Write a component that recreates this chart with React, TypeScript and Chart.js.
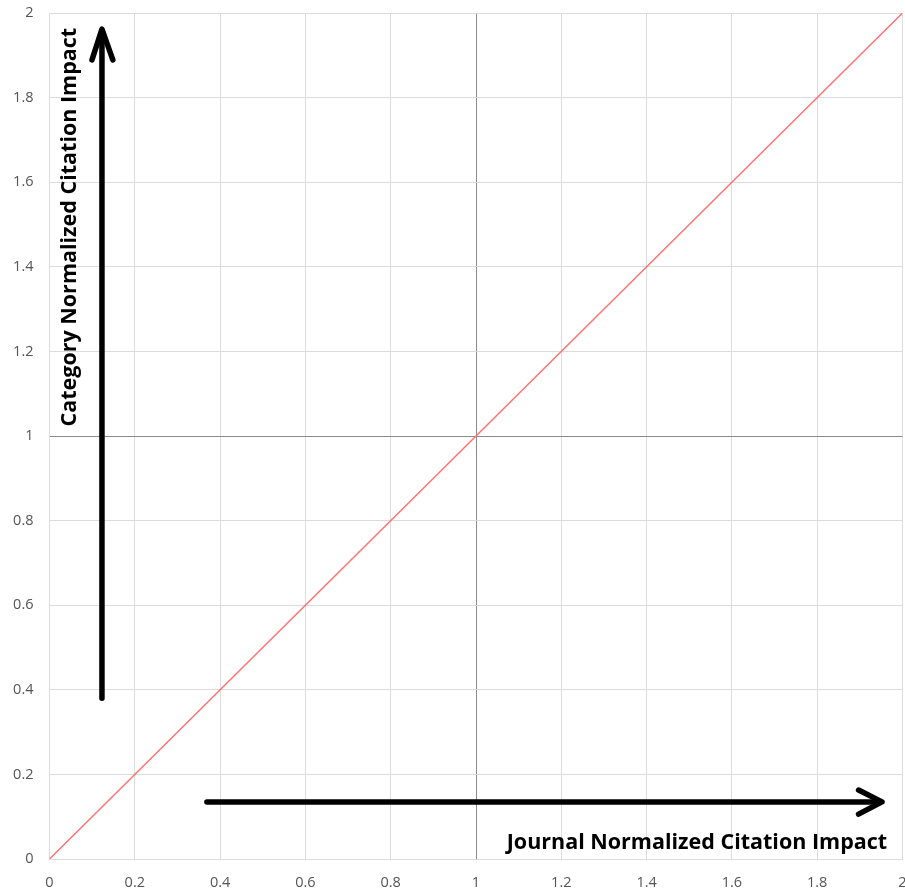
import React, { useEffect, useRef } from "react";
import { Chart, registerables } from "chart.js";

Chart.register(...registerables);

// Diagonal reference line (x = y)
const diagX = [0, 2];
const diagY = [0, 2];

// Vertical arrow (Category axis indicator)
const vShaftX = [0.123, 0.123];
const vShaftY = [0.38, 1.95];
const vHeadX = [0.0996, 0.123, 0.1485];
const vHeadY = [1.889, 1.962, 1.889];

// Horizontal arrow (Journal axis indicator)
const hShaftX = [0.369, 1.945];
const hShaftY = [0.135, 0.135];
const hHeadX = [1.897, 1.952, 1.897];
const hHeadY = [0.163, 0.135, 0.106];

// Labels
const yLabel = "Category Normalized Citation Impact";
const xLabel = "Journal Normalized Citation Impact";

const axisMin = 0;
const axisMax = 2;
const axisStep = 0.2;

const zip = (xs: number[], ys: number[]) => xs.map((x, i) => ({ x, y: ys[i] }));

const labelPlugin = {
  id: "arrowLabels",
  afterDatasetsDraw(chart: any) {
    const { ctx, scales } = chart;
    const x = scales.x;
    const y = scales.y;
    ctx.save();
    ctx.fillStyle = "#000";
    ctx.font = "bold 21.5px 'Open Sans', sans-serif";
    ctx.textAlign = "right";
    ctx.textBaseline = "middle";
    ctx.fillText(xLabel, x.getPixelForValue(1.964), y.getPixelForValue(0.038));
    ctx.translate(x.getPixelForValue(0.048), y.getPixelForValue(1.965));
    ctx.rotate(-Math.PI / 2);
    ctx.textAlign = "right";
    ctx.fillText(yLabel, 0, 0);
    ctx.restore();
  },
};

export default function App() {
  const ref = useRef<HTMLCanvasElement>(null);
  useEffect(() => {
    document.body.style.margin = "0";
    const arrowStyle = {
      borderColor: "#000",
      backgroundColor: "#000",
      borderWidth: 5.5,
      pointRadius: 0,
      showLine: true,
      borderCapStyle: "round" as const,
      borderJoinStyle: "round" as const,
      clip: false as any,
    };
    const gridColor = (c: any) => (Math.abs(c.tick?.value - 1) < 1e-9 ? "#8a8a8a" : "#dcdcdc");
    const fmt = (v: any) => String(Number(Number(v).toFixed(1)));
    const chart = new Chart(ref.current!, {
      type: "scatter",
      data: {
        datasets: [
          {
            data: zip(diagX, diagY),
            borderColor: "#ff7373",
            borderWidth: 1.5,
            pointRadius: 0,
            showLine: true,
          },
          { data: zip(vShaftX, vShaftY), ...arrowStyle },
          { data: zip(vHeadX, vHeadY), ...arrowStyle },
          { data: zip(hShaftX, hShaftY), ...arrowStyle },
          { data: zip(hHeadX, hHeadY), ...arrowStyle },
        ],
      },
      options: {
        animation: false,
        responsive: true,
        maintainAspectRatio: false,
        layout: { padding: { top: 13, right: 2.5, left: 0, bottom: 0 } },
        plugins: { legend: { display: false }, tooltip: { enabled: false } },
        scales: {
          x: {
            type: "linear",
            min: axisMin,
            max: axisMax,
            ticks: {
              stepSize: axisStep,
              color: "#555",
              font: { size: 14.5, family: "'Open Sans', sans-serif" },
              padding: 15,
              callback: fmt,
            },
            grid: { drawTicks: false, color: gridColor, lineWidth: 1 },
            border: { color: "#dcdcdc" },
            afterFit: (s: any) => {
              s.height = 31;
              s.paddingLeft = 0;
              s.paddingRight = 0;
            },
          },
          y: {
            type: "linear",
            min: axisMin,
            max: axisMax,
            ticks: {
              stepSize: axisStep,
              color: "#555",
              font: { size: 14.5, family: "'Open Sans', sans-serif" },
              padding: 16,
              callback: fmt,
            },
            grid: { drawTicks: false, color: gridColor, lineWidth: 1 },
            border: { color: "#dcdcdc" },
            afterFit: (s: any) => {
              s.width = 49.5;
              s.paddingTop = 0;
              s.paddingBottom = 0;
            },
          },
        },
      },
      plugins: [labelPlugin],
    });
    return () => chart.destroy();
  }, []);
  return (
    <div style={{ position: "absolute", left: 0, top: 0, width: 905, height: 890 }}>
      <canvas ref={ref} />
    </div>
  );
}
